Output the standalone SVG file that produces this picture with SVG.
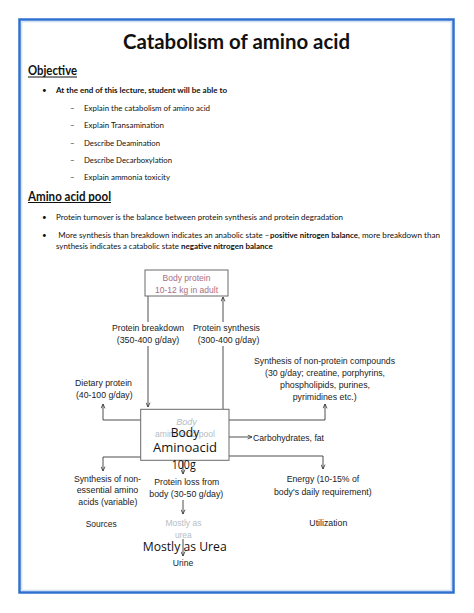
<svg xmlns="http://www.w3.org/2000/svg" width="474" height="613" viewBox="0 0 474 613">
<style>
.pg{font-family:Lato,"Open Sans","Liberation Sans",sans-serif;fill:#111}
.b{font-weight:bold}
.t8{font-size:8px}
.dg{font-family:"Liberation Sans",Arial,sans-serif;font-size:9.5px;fill:#222}
.ov{font-family:"Open Sans","Liberation Sans",sans-serif;font-size:12.5px;fill:#111}
.fa{font-family:"Liberation Sans",Arial,sans-serif;font-size:9px;fill:#b4bec6}
.ln{fill:none;stroke:#3a3a3a;stroke-width:0.9}
.bx{fill:#fff;stroke:#6a6a6a;stroke-width:1}
</style>
<defs>
<marker id="ah" viewBox="0 0 8 8" refX="7.5" refY="4" markerWidth="5" markerHeight="5" orient="auto" markerUnits="userSpaceOnUse">
<path d="M0.5,0.8 L7.5,4 L0.5,7.2" fill="none" stroke="#333" stroke-width="1.3"/>
</marker>
</defs>
<rect width="474" height="613" fill="#fff"/>
<rect x="19.5" y="19.5" width="434" height="573" fill="none" stroke="#2f70cf" stroke-width="2.5"/>
<rect x="21.8" y="21.8" width="429.4" height="568.4" fill="none" stroke="#b3cdf0" stroke-width="0.8"/>

<g id="header">
<text class="pg b" x="123" y="49" font-size="20.5" textLength="227" lengthAdjust="spacingAndGlyphs">Catabolism of amino acid</text>
<text class="pg b" x="28" y="75" font-size="12.5" textLength="49" lengthAdjust="spacingAndGlyphs">Objective</text>
<line x1="28" y1="77" x2="77" y2="77" stroke="#111" stroke-width="1"/>
<text class="pg t8" x="42" y="93">•</text>
<text class="pg b t8" x="56" y="93" textLength="171" lengthAdjust="spacingAndGlyphs">At the end of this lecture, student will be able to</text>
<text class="pg t8" x="70" y="111">–</text>
<text class="pg t8" x="84" y="111" textLength="126" lengthAdjust="spacingAndGlyphs">Explain the catabolism of amino acid</text>
<text class="pg t8" x="70" y="128">–</text>
<text class="pg t8" x="84" y="128" textLength="80" lengthAdjust="spacingAndGlyphs">Explain Transamination</text>
<text class="pg t8" x="70" y="145.5">–</text>
<text class="pg t8" x="84" y="145.5" textLength="76" lengthAdjust="spacingAndGlyphs">Describe Deamination</text>
<text class="pg t8" x="70" y="163">–</text>
<text class="pg t8" x="84" y="163" textLength="88" lengthAdjust="spacingAndGlyphs">Describe Decarboxylation</text>
<text class="pg t8" x="70" y="180">–</text>
<text class="pg t8" x="84" y="180" textLength="86" lengthAdjust="spacingAndGlyphs">Explain ammonia toxicity</text>
<text class="pg b" x="28" y="200.5" font-size="12.5" textLength="83" lengthAdjust="spacingAndGlyphs">Amino acid pool</text>
<line x1="28" y1="202.5" x2="111" y2="202.5" stroke="#111" stroke-width="1"/>
<text class="pg t8" x="42" y="220">•</text>
<text class="pg t8" x="56" y="220" textLength="287" lengthAdjust="spacingAndGlyphs">Protein turnover is the balance between protein synthesis and protein degradation</text>
<text class="pg t8" x="42" y="237.5">•</text>
<text class="pg t8" x="58.3" y="237.5" textLength="211" lengthAdjust="spacingAndGlyphs">More synthesis than breakdown indicates an anabolic state –</text>
<text class="pg b t8" x="270" y="237.5" textLength="88" lengthAdjust="spacingAndGlyphs">positive nitrogen balance</text>
<text class="pg t8" x="358" y="237.5" textLength="82" lengthAdjust="spacingAndGlyphs">, more breakdown than</text>
<text class="pg t8" x="56" y="249" textLength="123" lengthAdjust="spacingAndGlyphs">synthesis indicates a catabolic state</text>
<text class="pg b t8" x="181" y="249" textLength="91.7" lengthAdjust="spacingAndGlyphs">negative nitrogen balance</text>
</g>

<g id="connectors">
<path class="ln" d="M148,296 V322"/>
<path class="ln" d="M148,346 V407" marker-end="url(#ah)"/>
<path class="ln" d="M223,409 V346"/>
<path class="ln" d="M223,322 V297" marker-end="url(#ah)"/>
<path class="ln" d="M141,420 H103 V404" marker-end="url(#ah)"/>
<path class="ln" d="M229,420 H325 V404" marker-end="url(#ah)"/>
<path class="ln" d="M229,437 H252" marker-end="url(#ah)"/>
<path class="ln" d="M229,456 H323 V469" marker-end="url(#ah)"/>
<path class="ln" d="M141,457 H103 V471" marker-end="url(#ah)"/>
<path class="ln" d="M183,461 V474" marker-end="url(#ah)"/>
<path class="ln" d="M183,500 V514" marker-end="url(#ah)"/>
<path class="ln" d="M183,539 V556" marker-end="url(#ah)"/>
</g>

<g id="body-protein">
<rect class="bx" x="145" y="270" width="83" height="26"/>
<text class="dg" x="186.5" y="281" text-anchor="middle" fill="#a86f86" style="fill:#a86f86" textLength="48" lengthAdjust="spacingAndGlyphs">Body protein</text>
<text class="dg" x="186.5" y="292.5" text-anchor="middle" style="fill:#a86f86" textLength="63" lengthAdjust="spacingAndGlyphs">10-12 kg in adult</text>
</g>

<g id="breakdown">
<text class="dg" x="148" y="330.5" text-anchor="middle" textLength="72" lengthAdjust="spacingAndGlyphs">Protein breakdown</text>
<text class="dg" x="148" y="343" text-anchor="middle" textLength="62.6" lengthAdjust="spacingAndGlyphs">(350-400 g/day)</text>
</g>

<g id="synthesis">
<text class="dg" x="226.5" y="330.5" text-anchor="middle" textLength="67" lengthAdjust="spacingAndGlyphs">Protein synthesis</text>
<text class="dg" x="228.5" y="343" text-anchor="middle" textLength="61.6" lengthAdjust="spacingAndGlyphs">(300-400 g/day)</text>
</g>

<g id="dietary">
<text class="dg" x="103.5" y="386" text-anchor="middle" textLength="57" lengthAdjust="spacingAndGlyphs">Dietary protein</text>
<text class="dg" x="104.3" y="398" text-anchor="middle" textLength="56.7" lengthAdjust="spacingAndGlyphs">(40-100 g/day)</text>
</g>

<g id="nonprotein">
<text class="dg" x="324.5" y="363.5" text-anchor="middle" textLength="141" lengthAdjust="spacingAndGlyphs">Synthesis of non-protein compounds</text>
<text class="dg" x="325" y="375.5" text-anchor="middle" textLength="120" lengthAdjust="spacingAndGlyphs">(30 g/day; creatine, porphyrins,</text>
<text class="dg" x="325" y="387.5" text-anchor="middle" textLength="90" lengthAdjust="spacingAndGlyphs">phospholipids, purines,</text>
<text class="dg" x="324.7" y="399.5" text-anchor="middle" textLength="64" lengthAdjust="spacingAndGlyphs">pyrimidines etc.)</text>
</g>

<g id="pool">
<rect class="bx" x="140.7" y="409.3" width="88.3" height="51"/>
<text class="fa" x="186.5" y="424.5" text-anchor="middle" font-style="italic">Body</text>
<text class="fa" x="185" y="437" text-anchor="middle" textLength="60" lengthAdjust="spacingAndGlyphs">amino acid pool</text>
<text class="ov" x="185" y="436.5" text-anchor="middle" textLength="28.5" lengthAdjust="spacingAndGlyphs">Body</text>
<text class="ov" x="185" y="451.5" text-anchor="middle" textLength="64" lengthAdjust="spacingAndGlyphs">Aminoacid</text>
<text class="ov" x="183.7" y="468.5" text-anchor="middle" textLength="24" lengthAdjust="spacingAndGlyphs">100g</text>
</g>

<g id="carbs">
<text class="dg" x="253" y="440.5" textLength="71" lengthAdjust="spacingAndGlyphs">Carbohydrates, fat</text>
</g>

<g id="energy">
<text class="dg" x="323" y="482" text-anchor="middle" textLength="72.6" lengthAdjust="spacingAndGlyphs">Energy (10-15% of</text>
<text class="dg" x="322.8" y="494.5" text-anchor="middle" textLength="97.7" lengthAdjust="spacingAndGlyphs">body's daily requirement)</text>
</g>

<g id="nonessential">
<text class="dg" x="107.5" y="481.5" text-anchor="middle" textLength="67" lengthAdjust="spacingAndGlyphs">Synthesis of non-</text>
<text class="dg" x="107.5" y="493" text-anchor="middle" textLength="61.6" lengthAdjust="spacingAndGlyphs">essential amino</text>
<text class="dg" x="107.8" y="504.5" text-anchor="middle" textLength="59" lengthAdjust="spacingAndGlyphs">acids (variable)</text>
</g>

<g id="loss">
<text class="dg" x="186.8" y="484.5" text-anchor="middle" textLength="65" lengthAdjust="spacingAndGlyphs">Protein loss from</text>
<text class="dg" x="186.3" y="497" text-anchor="middle" textLength="74" lengthAdjust="spacingAndGlyphs">body (30-50 g/day)</text>
</g>

<g id="sources">
<text class="dg" x="101.2" y="526.5" text-anchor="middle" textLength="31" lengthAdjust="spacingAndGlyphs">Sources</text>
</g>

<g id="utilization">
<text class="dg" x="328.3" y="526" text-anchor="middle" textLength="38" lengthAdjust="spacingAndGlyphs">Utilization</text>
</g>

<g id="urea">
<text class="fa" x="183.5" y="526" text-anchor="middle" textLength="36" lengthAdjust="spacingAndGlyphs">Mostly as</text>
<text class="fa" x="183.3" y="537.5" text-anchor="middle" textLength="16.7" lengthAdjust="spacingAndGlyphs">urea</text>
<text class="ov" x="184.7" y="550.5" text-anchor="middle" textLength="84" lengthAdjust="spacingAndGlyphs">Mostly as Urea</text>
</g>

<g id="urine">
<text class="dg" x="183" y="565.5" text-anchor="middle" textLength="20.6" lengthAdjust="spacingAndGlyphs">Urine</text>
</g>
</svg>
